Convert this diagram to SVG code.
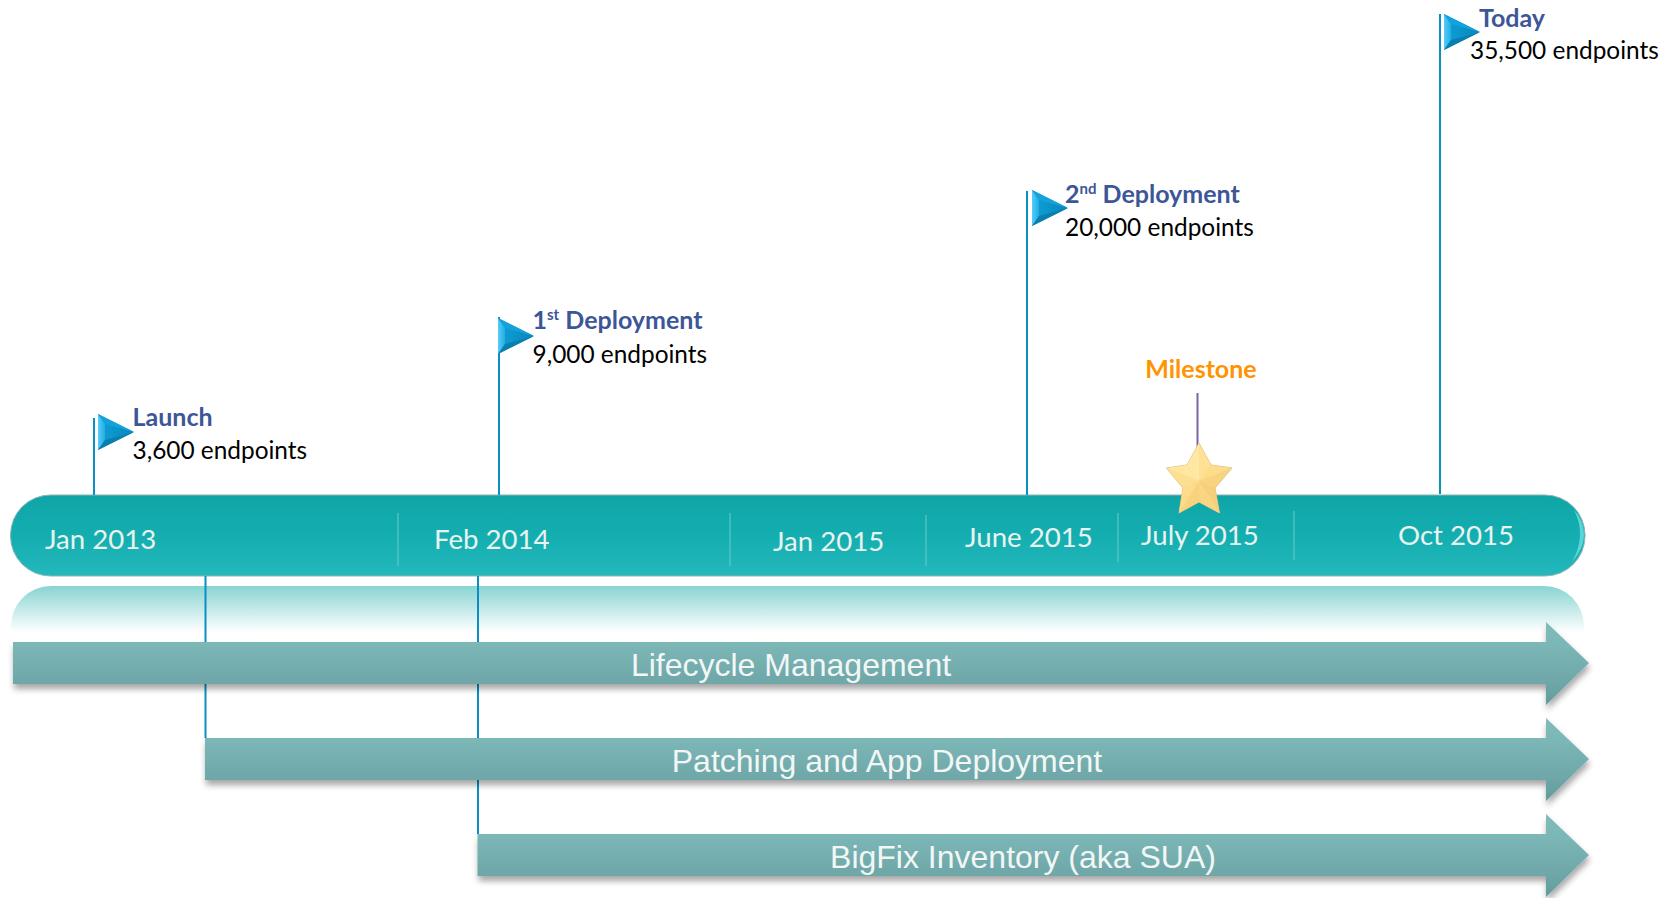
<svg xmlns="http://www.w3.org/2000/svg" width="1675" height="898" viewBox="0 0 1675 898">
<style>
.t{font-family:Lato,"Open Sans",sans-serif}
.h{font-size:25px;font-weight:700;fill:#3c5698}
.b{font-size:24.400px;fill:#000}
.d{font-size:27.600px;fill:#e9f3ef}
.a{font-family:"Liberation Sans",Arial,sans-serif;font-size:32px;fill:#f2f7f6;text-anchor:middle}
.l{stroke:#0a8fc4;stroke-width:2;fill:none}
.div{stroke:#5cc7c6;stroke-width:1.5;opacity:.8}
</style>
<defs>
<linearGradient id="bar" x1="0" y1="0" x2="0" y2="1"><stop offset="0" stop-color="#0fa5a7"/><stop offset=".5" stop-color="#14aeb0"/><stop offset="1" stop-color="#24b8bb"/></linearGradient>
<linearGradient id="ref" x1="0" y1="0" x2="0" y2="1"><stop offset="0" stop-color="#88d4d2"/><stop offset="1" stop-color="#fff"/></linearGradient>
<linearGradient id="arr" x1="0" y1="0" x2="0" y2="1"><stop offset="0" stop-color="#7fbcbb"/><stop offset=".25" stop-color="#7cb7b7"/><stop offset=".75" stop-color="#6ea6a7"/><stop offset="1" stop-color="#5f9b9c"/></linearGradient>
<linearGradient id="fl" x1="0" y1="0" x2="1" y2="0"><stop offset="0" stop-color="#0fa0d8"/><stop offset="1" stop-color="#0886bb"/></linearGradient>
<linearGradient id="bev" x1="0" y1="0" x2="1" y2="0"><stop offset="0" stop-color="#58ccf5"/><stop offset="1" stop-color="#1eaee6"/></linearGradient>
<filter id="sh" x="-2%" y="-10%" width="104%" height="125%"><feDropShadow dx="1" dy="5" stdDeviation="3" flood-color="#000" flood-opacity=".35"/></filter>
<g id="flag"><polygon points="0,0 36,18 0,36" fill="url(#fl)"/><polygon points="0,0 7,10 7,26 0,36" fill="url(#bev)"/><polygon points="0,0 36,18 7,10" fill="#12a3dc"/><polygon points="0,36 36,18 7,26" fill="#0a7fae"/></g>
</defs>

<g id="timeline-bar">
<rect x="10.500" y="495" width="1574.500" height="81" rx="40" fill="url(#bar)" stroke="#8fb5b5" stroke-width="1"/>
<path d="M1574 510Q1587 535 1572 562Q1584 548 1584 535Q1584 520 1574 510Z" fill="#6fe3e3" opacity=".75"/>
<path class="div" d="M398 513V566M730 513V566M926 515V566M1118 513V562M1294 511V560"/>
<text class="t d" x="45" y="549">Jan 2013</text>
<text class="t d" x="434" y="549">Feb 2014</text>
<text class="t d" x="773" y="551">Jan 2015</text>
<text class="t d" x="965" y="547">June 2015</text>
<text class="t d" x="1141" y="545">July 2015</text>
<text class="t d" x="1398" y="545">Oct 2015</text>
</g>

<path id="reflection" d="M11 632V626A40 40 0 0 1 51 586H1544A40 40 0 0 1 1584 626V632Z" fill="url(#ref)"/>

<g id="connectors">
<path class="l" d="M94 418V495M499 317V495M1027 191V495M1440 14V494M205.500 576V738M478 576V834"/>
<path d="M1197.500 393V450" stroke="#7d63a8" stroke-width="2" fill="none"/>
</g>

<g id="arrow-lifecycle">
<polygon points="13,642 1546,642 1546,622 1589,663 1546,705 1546,684 13,684" fill="url(#arr)" filter="url(#sh)"/>
<text class="a" x="791" y="676">Lifecycle Management</text>
</g>
<g id="arrow-patching">
<polygon points="205,738 1546,738 1546,718 1589,759 1546,801 1546,780 205,780" fill="url(#arr)" filter="url(#sh)"/>
<text class="a" x="887" y="772">Patching and App Deployment</text>
</g>
<g id="arrow-bigfix">
<polygon points="477.500,834 1546,834 1546,814 1589,855 1546,897 1546,876 477.500,876" fill="url(#arr)" filter="url(#sh)"/>
<text class="a" x="1023" y="868">BigFix Inventory (aka SUA)</text>
</g>

<g id="flag-launch"><use href="#flag" x="98" y="414"/>
<text class="t h" x="132.500" y="426">Launch</text><text class="t b" x="132.500" y="458.500">3,600 endpoints</text></g>
<g id="flag-first"><use href="#flag" x="498" y="318"/>
<text class="t h" x="532.500" y="329">1<tspan font-size="15" dy="-9">st</tspan><tspan dy="9"> Deployment</tspan></text><text class="t b" x="532.500" y="362.500">9,000 endpoints</text></g>
<g id="flag-second"><use href="#flag" x="1032" y="190"/>
<text class="t h" x="1065" y="203">2<tspan font-size="15" dy="-9">nd</tspan><tspan dy="9"> Deployment</tspan></text><text class="t b" x="1065" y="235.500">20,000 endpoints</text></g>
<g id="flag-today"><use href="#flag" x="1444" y="14"/>
<text class="t h" x="1479" y="27">Today</text><text class="t b" x="1470" y="58.500">35,500 endpoints</text></g>

<g id="milestone">
<text x="1201" y="378" class="t" font-size="25" font-weight="700" fill="#ff9300" text-anchor="middle">Milestone</text>
<polygon points="1199,443 1211,465 1232,468 1215,488 1219.500,513 1199,502 1179,513 1183,488 1166.500,468 1187,465" fill="#fbd987" stroke="#d8bd7c" stroke-width="1"/>
<polygon points="1199,443 1211,465 1199,481" fill="#ffe094"/>
<polygon points="1199,443 1187,465 1199,481" fill="#ffe7a4"/>
<polygon points="1232,468 1211,465 1199,481" fill="#fddc8c"/>
<polygon points="1232,468 1215,488 1199,481" fill="#f9d480"/>
<polygon points="1219.500,513 1215,488 1199,481" fill="#f7cf78"/>
<polygon points="1219.500,513 1199,502 1199,481" fill="#fad684"/>
<polygon points="1179,513 1199,502 1199,481" fill="#f8d27c"/>
<polygon points="1179,513 1183,488 1199,481" fill="#fcdb8a"/>
<polygon points="1166.500,468 1183,488 1199,481" fill="#fddf90"/>
<polygon points="1166.500,468 1187,465 1199,481" fill="#ffe6a2"/>
</g>
</svg>
